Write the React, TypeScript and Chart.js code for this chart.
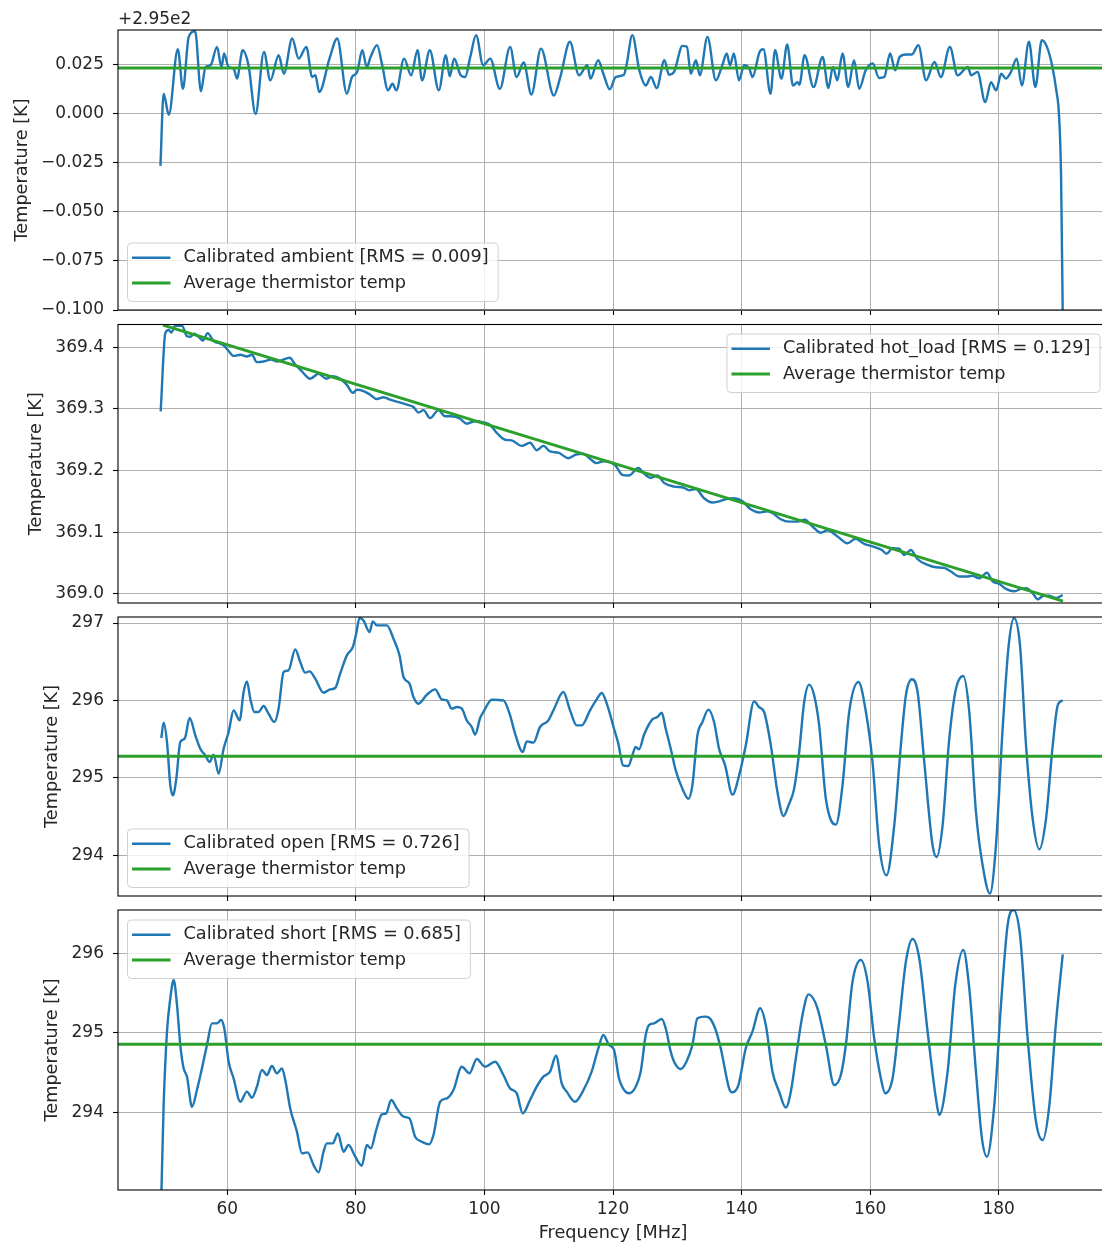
import React, { useEffect, useRef } from "react";
import { Chart, registerables } from "chart.js";

Chart.register(...registerables);

const FONT_FAMILY = "'DejaVu Sans', 'Liberation Sans', sans-serif";
const FONT_SIZE = 17;
const LABEL_FONT_SIZE = 17.7;
const TEXT_COLOR = "#262626";
const GRID_COLOR = "#b0b0b0";
const BLUE = "#1f77b4";
const GREEN = "#2ca02c";
const CANVAS_W = 1110;
const TICK_LEN = 5;
const TICK_PAD = 9;

const X_MIN = 43;
const X_MAX = 197;
const X_TICKS = [60, 80, 100, 120, 140, 160, 180];
const X_TICK_LABELS = ["60", "80", "100", "120", "140", "160", "180"];
const X_LABEL = "Frequency [MHz]";
const Y_LABEL = "Temperature [K]";
const AVG_LABEL = "Average thermistor temp";

// ---------- Panel 1: ambient (values shown relative to +2.95e2) ----------
const ambientOffsetText = "+2.95e2";
const ambientLabel = "Calibrated ambient [RMS = 0.009]";
const ambientFreq = [
  49.6, 50.1, 50.9, 52.3, 53.1, 54.0, 55.0, 55.9, 56.6, 57.4,
  58.4, 59.1, 59.5, 60.2, 61.0, 61.5, 62.4, 63.3, 64.4, 65.7,
  66.7, 68.0, 68.8, 70.1, 71.1, 72.3, 73.2, 73.7, 74.3, 75.9,
  77.1, 78.6, 79.4, 80.2, 81.0, 81.7, 82.3, 83.3, 84.1, 85.0,
  85.7, 86.3, 87.5, 88.6, 89.6, 90.3, 91.5, 92.9, 94.0, 94.6,
  95.3, 96.3, 97.0, 97.8, 98.7, 99.8, 100.9, 102.4, 104.0, 105.0,
  106.1, 107.3, 108.8, 110.8, 111.8, 113.3, 114.7, 116.0, 116.5, 117.7,
  118.5, 119.5, 120.4, 121.7, 122.1, 123.0, 124.1, 125.1, 125.9, 126.8,
  128.0, 128.7, 129.5, 130.8, 131.5, 132.1, 132.9, 133.5, 134.7, 136.0,
  137.0, 137.7, 138.2, 138.8, 139.6, 140.4, 141.2, 141.7, 142.8, 143.4,
  144.5, 145.2, 146.2, 147.1, 148.0, 148.7, 149.0, 149.8, 151.2, 152.6,
  153.5, 154.2, 154.9, 155.7, 156.6, 157.5, 158.3, 159.3, 160.4, 161.4,
  162.2, 163.1, 163.9, 164.6, 165.6, 166.5, 167.5, 168.7, 170.0, 171.0,
  172.4, 173.6, 175.2, 175.7, 176.7, 177.9, 178.8, 179.6, 180.4, 181.1,
  181.9, 182.8, 183.6, 184.7, 185.7, 186.7, 187.5, 188.3, 189.0, 189.35,
  189.7, 190.0,
];
const ambientTemp = [
  -0.0265, 0.0103, -0.0005, 0.033, 0.0128, 0.0393, 0.0422, 0.0115, 0.0239, 0.0248,
  0.0342, 0.0239, 0.0308, 0.0239, 0.0231, 0.018, 0.0325, 0.0248, 0.0, 0.0316,
  0.0171, 0.0299, 0.0205, 0.0385, 0.0282, 0.0342, 0.0188, 0.0197, 0.0111, 0.0282,
  0.0385, 0.0103, 0.0188, 0.0214, 0.0325, 0.0239, 0.0291, 0.0351, 0.0248, 0.012,
  0.0154, 0.012, 0.0282, 0.0197, 0.0325, 0.0171, 0.0325, 0.012, 0.0299, 0.0192,
  0.0282, 0.0197, 0.0188, 0.0291, 0.0402, 0.0248, 0.0282, 0.0128, 0.0342, 0.0188,
  0.0262, 0.0099, 0.0333, 0.0094, 0.0188, 0.0368, 0.0197, 0.0248, 0.018, 0.0274,
  0.0205, 0.0125, 0.0188, 0.02, 0.0248, 0.0402, 0.0222, 0.0145, 0.0188, 0.0132,
  0.0274, 0.02, 0.0214, 0.0347, 0.0342, 0.0205, 0.0274, 0.0197, 0.0393, 0.0171,
  0.0248, 0.0308, 0.0248, 0.0308, 0.0171, 0.0248, 0.0231, 0.0188, 0.0316, 0.033,
  0.0103, 0.0325, 0.018, 0.0354, 0.0145, 0.0162, 0.0149, 0.0299, 0.0137, 0.0291,
  0.0132, 0.0239, 0.0171, 0.0308, 0.0137, 0.0274, 0.0128, 0.0222, 0.0257, 0.0183,
  0.0188, 0.0308, 0.0222, 0.0291, 0.0303, 0.0303, 0.0351, 0.0171, 0.0265, 0.0188,
  0.0342, 0.0197, 0.0239, 0.0197, 0.0214, 0.006, 0.0162, 0.012, 0.0205, 0.018,
  0.0214, 0.0282, 0.0145, 0.0368, 0.0137, 0.0376, 0.0342, 0.0248, 0.0111, 0.0009,
  -0.0316, -0.115,
];
const ambientAvg = 0.0234;
const ambientYTicks = [-0.1, -0.075, -0.05, -0.025, 0, 0.025];
const ambientYTickLabels = ["\u22120.100", "\u22120.075", "\u22120.050", "\u22120.025", "0.000", "0.025"];

// ---------- Panel 2: hot load ----------
const hotLabel = "Calibrated hot_load [RMS = 0.129]";
const hotFreq = [
  49.64, 50.36, 50.88, 51.3, 51.92, 52.95, 53.73, 54.25, 54.87, 55.54,
  56.22, 56.94, 57.88, 58.91, 59.43, 60.21, 60.98, 62.02, 63.06, 63.83,
  64.61, 65.65, 66.79, 67.82, 68.5, 69.69, 70.57, 71.61, 72.9, 74.2,
  75.39, 76.42, 77.56, 78.6, 79.53, 80.16, 81.19, 82.23, 83.26, 84.3,
  85.34, 86.63, 87.93, 88.96, 89.74, 90.52, 91.55, 92.85, 93.89, 94.92,
  96.22, 97.25, 98.55, 99.84, 100.88, 101.92, 103.21, 104.25, 105.8, 107.1,
  108.13, 109.17, 110.21, 111.5, 113.06, 114.25, 115.39, 116.42, 117.46, 118.5,
  120.31, 121.45, 122.49, 123.94, 124.83, 125.86, 126.9, 127.94, 129.5, 131.05,
  131.83, 132.87, 134.17, 135.46, 136.5, 137.8, 138.84, 140.14, 141.43, 142.73,
  144.03, 144.81, 146.1, 147.4, 148.7, 149.84, 151.04, 152.33, 153.37, 154.93,
  156.48, 157.68, 159.08, 160.37, 161.83, 162.55, 163.49, 164.52, 165.3, 166.34,
  167.38, 168.94, 170.23, 171.53, 172.57, 173.87, 174.9, 175.94, 176.98, 178.17,
  179.05, 180.09, 181.13, 182.43, 183.47, 184.25, 185.28, 186.06, 186.84, 187.77,
  188.92, 189.95,
];
const hotTemp = [
  369.296, 369.423, 369.428, 369.424, 369.435, 369.435, 369.418, 369.417, 369.422, 369.417,
  369.411, 369.423, 369.41, 369.406, 369.403, 369.394, 369.386, 369.388, 369.385, 369.388,
  369.376, 369.377, 369.38, 369.377, 369.379, 369.383, 369.372, 369.361, 369.349, 369.357,
  369.349, 369.353, 369.349, 369.339, 369.326, 369.331, 369.329, 369.323, 369.316, 369.319,
  369.315, 369.311, 369.307, 369.303, 369.294, 369.298, 369.285, 369.298, 369.288, 369.288,
  369.284, 369.276, 369.28, 369.278, 369.274, 369.261, 369.25, 369.249, 369.24, 369.245,
  369.233, 369.24, 369.231, 369.229, 369.22, 369.226, 369.227, 369.219, 369.212, 369.215,
  369.209, 369.193, 369.192, 369.204, 369.195, 369.188, 369.192, 369.18, 369.174, 369.172,
  369.168, 369.17, 369.155, 369.148, 369.15, 369.154, 369.155, 369.15, 369.137, 369.132,
  369.134, 369.131, 369.121, 369.117, 369.117, 369.12, 369.109, 369.099, 369.103, 369.093,
  369.082, 369.089, 369.081, 369.077, 369.071, 369.065, 369.074, 369.073, 369.063, 369.071,
  369.056, 369.047, 369.043, 369.042, 369.036, 369.028, 369.028, 369.029, 369.025, 369.034,
  369.02, 369.016, 369.008, 369.004, 369.008, 369.009, 369.001, 368.991, 368.996, 368.997,
  368.993, 368.998,
];
const hotAvgFreq = [50, 190];
const hotAvgTemp = [369.436, 368.988];
const hotYTicks = [369.0, 369.1, 369.2, 369.3, 369.4];
const hotYTickLabels = ["369.0", "369.1", "369.2", "369.3", "369.4"];

// ---------- Panel 3: open ----------
const openLabel = "Calibrated open [RMS = 0.726]";
const openFreq = [
  49.74, 50.1, 50.62, 51.14, 51.55, 52.07, 52.69, 53.37, 54.15, 55.03,
  55.8, 56.58, 57.25, 57.88, 58.65, 59.43, 60.21, 60.98, 61.92, 62.54,
  63.06, 63.58, 64.2, 64.87, 65.65, 66.42, 67.31, 67.98, 68.76, 69.53,
  70.57, 71.35, 72.12, 72.8, 73.68, 74.97, 76.01, 76.79, 77.56, 78.6,
  79.53, 80.05, 80.57, 81.19, 82.12, 82.64, 83.26, 84.04, 84.82, 85.85,
  86.79, 87.41, 88.34, 88.96, 89.74, 91.04, 92.33, 93.37, 94.15, 94.92,
  95.7, 96.48, 97.25, 98.03, 98.55, 99.33, 99.84, 101.14, 102.95, 103.99,
  104.77, 105.96, 106.58, 107.62, 108.65, 109.95, 110.73, 112.28, 113.32, 114.35,
  115.13, 116.42, 117.46, 118.24, 119.12, 120.16, 120.83, 121.56, 122.39, 123.01,
  123.53, 124.05, 124.83, 126.12, 126.9, 127.58, 128.2, 128.98, 129.76, 130.79,
  131.73, 132.35, 133.13, 133.91, 134.84, 135.72, 136.5, 137.44, 138.58, 139.62,
  140.66, 141.95, 142.73, 143.51, 144.55, 145.58, 146.52, 147.3, 148.18, 148.96,
  149.74, 150.51, 151.29, 152.07, 153.11, 154.67, 155.7, 156.74, 158.19, 159.34,
  160.37, 161.41, 162.55, 163.75, 164.78, 165.56, 166.5, 167.38, 168.42, 169.71,
  170.34, 171.27, 172.31, 173.35, 174.49, 175.42, 176.46, 177.5, 178.64, 179.57,
  180.61, 181.55, 182.38, 183.31, 184.25, 185.28, 186.32, 187.36, 188.4, 189.18,
  189.96,
];
const openTemp = [
  295.515, 295.713, 295.463, 294.904, 294.775, 294.99, 295.463, 295.506, 295.773, 295.549,
  295.377, 295.291, 295.205, 295.3, 295.054, 295.377, 295.592, 295.872, 295.743, 296.109,
  296.247, 296.023, 295.851, 295.851, 295.928, 295.829, 295.721, 295.894, 296.367, 296.389,
  296.66, 296.496, 296.359, 296.376, 296.281, 296.1, 296.143, 296.161, 296.346, 296.582,
  296.69, 296.862, 297.065, 297.034, 296.884, 297.022, 296.97, 296.97, 296.97, 296.798,
  296.582, 296.303, 296.217, 296.044, 295.958, 296.074, 296.143, 296.014, 296.001, 295.894,
  295.915, 295.894, 295.743, 295.657, 295.558, 295.773, 295.851, 296.01, 296.001, 295.808,
  295.571, 295.334, 295.472, 295.455, 295.657, 295.743, 295.872, 296.109, 295.872, 295.678,
  295.678, 295.872, 296.014, 296.096, 295.937, 295.635, 295.442, 295.162, 295.153, 295.291,
  295.399, 295.369, 295.558, 295.756, 295.786, 295.842, 295.635, 295.377, 295.097, 294.861,
  294.731, 294.904, 295.549, 295.721, 295.881, 295.721, 295.377, 295.162, 294.783, 295.033,
  295.42, 295.988, 295.915, 295.851, 295.42, 294.817, 294.508, 294.645, 294.861, 295.334,
  295.98, 296.204, 296.066, 295.678, 294.731, 294.396, 294.904, 295.851, 296.238, 295.851,
  295.205, 294.129, 293.741, 294.387, 295.42, 296.066, 296.273, 296.109, 295.205, 294.129,
  293.978, 294.387, 295.506, 296.152, 296.316, 295.851, 294.559, 293.87, 293.505, 294.129,
  295.635, 296.712, 297.065, 296.712, 295.42, 294.473, 294.077, 294.473, 295.42, 295.937,
  296.001,
];
const openAvg = 295.28;
const openYTicks = [294, 295, 296, 297];
const openYTickLabels = ["294", "295", "296", "297"];

// ---------- Panel 4: short ----------
const shortLabel = "Calibrated short [RMS = 0.685]";
const shortFreq = [
  49.74, 50.1, 50.62, 51.14, 51.66, 52.18, 52.69, 53.21, 53.73, 54.51,
  55.28, 56.06, 56.84, 57.62, 58.39, 59.02, 59.53, 60.21, 60.98, 62.02,
  63.06, 63.83, 64.61, 65.39, 66.17, 66.94, 67.72, 68.5, 69.02, 69.79,
  70.83, 71.61, 72.49, 73.42, 74.2, 74.97, 75.49, 76.42, 77.2, 78.08,
  78.86, 79.9, 80.93, 81.71, 82.33, 83.16, 84.04, 84.72, 85.49, 86.37,
  87.41, 88.34, 89.22, 90.26, 91.4, 92.07, 93.11, 94.15, 95.18, 96.48,
  97.67, 98.81, 100.1, 101.66, 102.95, 103.99, 105.03, 105.96, 107.1, 108.13,
  109.17, 110.21, 111.14, 112.02, 112.8, 114.09, 115.28, 116.68, 117.72, 118.5,
  119.38, 120.16, 120.93, 121.56, 122.49, 123.53, 124.31, 125.09, 125.6, 126.38,
  127.58, 128.2, 128.98, 129.5, 130.53, 131.42, 132.35, 133.13, 134.32, 134.95,
  135.88, 136.76, 138.06, 138.47, 139.51, 140.65, 141.69, 142.89, 143.77, 144.81,
  145.84, 146.88, 147.66, 148.44, 149.48, 150.41, 151.81, 153.11, 154.41, 155.44,
  156.22, 157.26, 158.56, 159.6, 160.63, 161.67, 162.35, 163.49, 164.52, 165.56,
  166.6, 167.64, 168.94, 170.23, 170.75, 172.05, 173.24, 174.49, 175.42, 176.46,
  177.39, 178.17, 179.31, 180.35, 181.39, 182.27, 183.31, 184.5, 185.8, 186.84,
  187.88, 188.92, 189.96,
];
const shortTemp = [
  292.95, 294.096, 295.017, 295.435, 295.665, 295.351, 294.849, 294.556, 294.452, 294.075,
  294.285, 294.556, 294.849, 295.121, 295.121, 295.163, 295.059, 294.64, 294.431, 294.138,
  294.264, 294.188, 294.326, 294.536, 294.473, 294.586, 294.494, 294.556, 294.41, 294.054,
  293.762, 293.49, 293.502, 293.343, 293.251, 293.51, 293.615, 293.615, 293.741, 293.51,
  293.594, 293.448, 293.335, 293.594, 293.552, 293.782, 293.979, 293.992, 294.159, 294.054,
  293.95, 293.929, 293.699, 293.636, 293.603, 293.72, 294.138, 294.18, 294.285, 294.577,
  294.494, 294.674, 294.577, 294.64, 294.473, 294.305, 294.243, 293.992, 294.159, 294.326,
  294.452, 294.515, 294.715, 294.368, 294.264, 294.138, 294.264, 294.515, 294.808, 294.975,
  294.849, 294.787, 294.431, 294.305, 294.243, 294.326, 294.515, 294.975, 295.1, 295.121,
  295.176, 295.059, 294.766, 294.64, 294.548, 294.64, 294.849, 295.184, 295.205, 295.192,
  295.059, 294.808, 294.305, 294.255, 294.347, 294.808, 295.017, 295.31, 295.1, 294.515,
  294.264, 294.063, 294.264, 294.682, 295.226, 295.485, 295.31, 294.849, 294.347, 294.473,
  294.849, 295.644, 295.916, 295.644, 294.933, 294.431, 294.243, 294.431, 295.142, 295.895,
  296.18, 295.937, 295.017, 294.18, 293.971, 294.515, 295.603, 296.042, 295.561, 294.515,
  293.678, 293.448, 294.096, 295.351, 296.356, 296.544, 296.23, 294.933, 293.887, 293.657,
  294.096, 295.142, 295.987,
];
const shortAvg = 294.858;
const shortYTicks = [294, 295, 296];
const shortYTickLabels = ["294", "295", "296"];

type Corner = "bl" | "tl" | "tr";
type PanelCfg = {
  key: string;
  canvasTop: number;
  canvasH: number;
  padTop: number;
  xAxisH: number;
  yMin: number;
  yMax: number;
  yTicks: number[];
  yTickLabels: string[];
  freq: number[];
  temp: number[];
  avgFreq: number[];
  avgTemp: number[];
  seriesLabel: string;
  legendCorner: Corner;
  showXTicks: boolean;
  offsetText?: string;
};

const PANELS: PanelCfg[] = [
  {
    key: "ambient", canvasTop: 0, canvasH: 317, padTop: 30, xAxisH: 7,
    yMin: -0.1, yMax: 0.0428, yTicks: ambientYTicks, yTickLabels: ambientYTickLabels,
    freq: ambientFreq, temp: ambientTemp,
    avgFreq: [X_MIN, X_MAX], avgTemp: [ambientAvg, ambientAvg],
    seriesLabel: ambientLabel, legendCorner: "bl", showXTicks: false, offsetText: ambientOffsetText,
  },
  {
    key: "hot", canvasTop: 317, canvasH: 293, padTop: 7.5, xAxisH: 7,
    yMin: 368.985, yMax: 369.437, yTicks: hotYTicks, yTickLabels: hotYTickLabels,
    freq: hotFreq, temp: hotTemp,
    avgFreq: hotAvgFreq, avgTemp: hotAvgTemp,
    seriesLabel: hotLabel, legendCorner: "tr", showXTicks: false,
  },
  {
    key: "open", canvasTop: 610, canvasH: 293, padTop: 7, xAxisH: 7,
    yMin: 293.474, yMax: 297.078, yTicks: openYTicks, yTickLabels: openYTickLabels,
    freq: openFreq, temp: openTemp,
    avgFreq: [X_MIN, X_MAX], avgTemp: [openAvg, openAvg],
    seriesLabel: openLabel, legendCorner: "bl", showXTicks: false,
  },
  {
    key: "short", canvasTop: 903, canvasH: 344, padTop: 7, xAxisH: 57,
    yMin: 293.03, yMax: 296.543, yTicks: shortYTicks, yTickLabels: shortYTickLabels,
    freq: shortFreq, temp: shortTemp,
    avgFreq: [X_MIN, X_MAX], avgTemp: [shortAvg, shortAvg],
    seriesLabel: shortLabel, legendCorner: "tl", showXTicks: true,
  },
];

const TICK_FONT = `${FONT_SIZE}px ${FONT_FAMILY}`;
const LABEL_FONT = `${LABEL_FONT_SIZE}px ${FONT_FAMILY}`;

function makeDecor(cfg: PanelCfg) {
  return {
    id: "decor_" + cfg.key,
    afterDraw(chart: any) {
      const { ctx, chartArea: a } = chart;
      ctx.save();
      // spines
      ctx.strokeStyle = "#000";
      ctx.lineWidth = 1.1;
      ctx.strokeRect(a.left, a.top, a.right - a.left, a.bottom - a.top);

      ctx.fillStyle = TEXT_COLOR;

      // y-axis title (placed left of the widest tick label)
      ctx.font = TICK_FONT;
      const widest = Math.max(...cfg.yTickLabels.map((t) => ctx.measureText(t).width));
      const cx = a.left - TICK_LEN - TICK_PAD - widest - 19;
      ctx.font = LABEL_FONT;
      ctx.save();
      ctx.translate(cx, (a.top + a.bottom) / 2);
      ctx.rotate(-Math.PI / 2);
      ctx.textAlign = "center";
      ctx.textBaseline = "middle";
      ctx.fillText(Y_LABEL, 0, 0);
      ctx.restore();

      // offset text
      if (cfg.offsetText) {
        ctx.font = TICK_FONT;
        ctx.textAlign = "left";
        ctx.textBaseline = "middle";
        ctx.fillText(cfg.offsetText, a.left, a.top - 10.5);
      }

      // x-axis title
      if (cfg.showXTicks) {
        ctx.font = LABEL_FONT;
        ctx.textAlign = "center";
        ctx.textBaseline = "middle";
        ctx.fillText(X_LABEL, (a.left + a.right) / 2, a.bottom + 43);
      }

      // legend
      ctx.font = LABEL_FONT;
      const labels = [cfg.seriesLabel, AVG_LABEL];
      const colors = [BLUE, GREEN];
      const widths = [2.4, 3];
      const tw = Math.max(...labels.map((t) => ctx.measureText(t).width));
      const bw = 56 + tw + 9.5;
      const bh = 58.5;
      let bx = a.left + 9.5;
      let by = a.top + 10;
      if (cfg.legendCorner === "bl") by = a.bottom - 8.5 - bh;
      if (cfg.legendCorner === "tr") {
        bx = a.right - 8 - bw;
        by = a.top + 9.5;
      }
      ctx.beginPath();
      ctx.roundRect(bx, by, bw, bh, 4);
      ctx.fillStyle = "rgba(255,255,255,0.8)";
      ctx.fill();
      ctx.strokeStyle = "rgba(204,204,204,0.9)";
      ctx.lineWidth = 1;
      ctx.stroke();
      const rowY = [by + 14.7, by + 40];
      labels.forEach((lab, i) => {
        ctx.beginPath();
        ctx.strokeStyle = colors[i];
        ctx.lineWidth = widths[i];
        ctx.moveTo(bx + 4.5, rowY[i]);
        ctx.lineTo(bx + 43, rowY[i]);
        ctx.stroke();
        ctx.fillStyle = TEXT_COLOR;
        ctx.textAlign = "left";
        ctx.textBaseline = "middle";
        ctx.fillText(lab, bx + 56, rowY[i]);
      });
      ctx.restore();
    },
  };
}

function Panel({ cfg }: { cfg: PanelCfg }) {
  const ref = useRef<HTMLCanvasElement | null>(null);
  useEffect(() => {
    if (!ref.current) return;
    const series = cfg.freq.map((f, i) => ({ x: f, y: cfg.temp[i] }));
    const avg = cfg.avgFreq.map((f, i) => ({ x: f, y: cfg.avgTemp[i] }));
    const chart = new Chart(ref.current, {
      type: "line",
      data: {
        datasets: [
          {
            label: AVG_LABEL,
            data: avg,
            borderColor: GREEN,
            borderWidth: 3,
            pointRadius: 0,
            fill: false,
            clip: 0,
          },
          {
            label: cfg.seriesLabel,
            data: series,
            borderColor: BLUE,
            borderWidth: 2.4,
            pointRadius: 0,
            fill: false,
            cubicInterpolationMode: "monotone",
            clip: 0,
          },
        ],
      },
      options: {
        animation: false,
        responsive: false,
        devicePixelRatio: 1,
        layout: { padding: { top: cfg.padTop, right: 2, bottom: 0, left: 0 }, autoPadding: false },
        plugins: { legend: { display: false }, tooltip: { enabled: false } },
        events: [],
        scales: {
          x: {
            type: "linear",
            min: X_MIN,
            max: X_MAX,
            afterBuildTicks: (s: any) => {
              s.ticks = X_TICKS.map((v) => ({ value: v }));
            },
            afterFit: (s: any) => {
              s.height = cfg.xAxisH;
              s.paddingLeft = 0;
              s.paddingRight = 0;
              s.paddingTop = 0;
              s.paddingBottom = 0;
            },
            border: { display: false },
            grid: {
              color: GRID_COLOR,
              lineWidth: 1,
              drawTicks: true,
              tickLength: TICK_LEN,
              tickColor: "#000",
              tickWidth: 1.1,
            },
            ticks: {
              display: cfg.showXTicks,
              autoSkip: false,
              maxRotation: 0,
              padding: 4,
              color: TEXT_COLOR,
              font: { family: FONT_FAMILY, size: FONT_SIZE },
              callback: (_v: any, i: number) => X_TICK_LABELS[i],
            },
          },
          y: {
            type: "linear",
            min: cfg.yMin,
            max: cfg.yMax,
            afterBuildTicks: (s: any) => {
              s.ticks = cfg.yTicks.map((v) => ({ value: v }));
            },
            afterFit: (s: any) => {
              s.width = 118;
              s.paddingTop = 0;
              s.paddingBottom = 0;
              s.paddingLeft = 0;
              s.paddingRight = 0;
            },
            border: { display: false },
            grid: {
              color: GRID_COLOR,
              lineWidth: 1,
              drawTicks: true,
              tickLength: TICK_LEN,
              tickColor: "#000",
              tickWidth: 1.1,
            },
            ticks: {
              autoSkip: false,
              padding: TICK_PAD,
              color: TEXT_COLOR,
              font: { family: FONT_FAMILY, size: FONT_SIZE },
              callback: (_v: any, i: number) => cfg.yTickLabels[i],
            },
          },
        },
      },
      plugins: [makeDecor(cfg)],
    } as any);
    return () => chart.destroy();
  }, [cfg]);
  return (
    <canvas
      ref={ref}
      width={CANVAS_W}
      height={cfg.canvasH}
      style={{ position: "absolute", left: 0, top: cfg.canvasTop, width: CANVAS_W, height: cfg.canvasH }}
    />
  );
}

export default function App() {
  return (
    <div
      style={{
        position: "absolute",
        left: 0,
        top: 0,
        width: 1102,
        height: 1247,
        overflow: "hidden",
        background: "#fff",
      }}
    >
      {PANELS.map((p) => (
        <Panel key={p.key} cfg={p} />
      ))}
    </div>
  );
}
